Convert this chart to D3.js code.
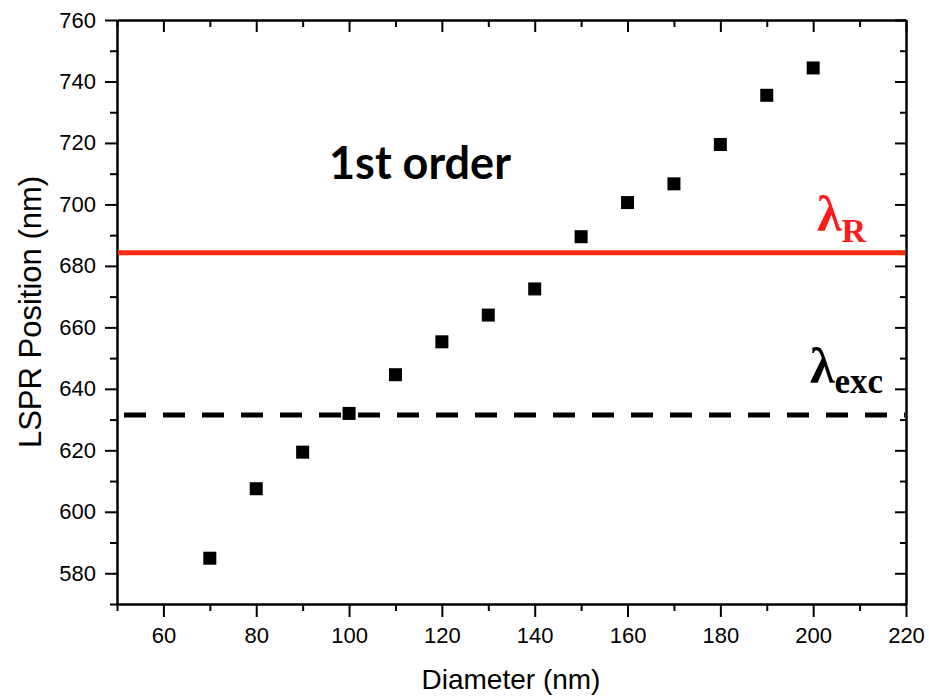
<!DOCTYPE html>
<html>
<head>
<meta charset="utf-8">
<script src="https://cdn.jsdelivr.net/npm/d3@7"></script>
<style>
  html, body { margin: 0; padding: 0; background: #fff; }
  svg { display: block; }
</style>
</head>
<body>
<svg id="chart" width="929" height="696"></svg>
<script>
// ---- data ----
const diameters = [70, 80, 90, 100, 110, 120, 130, 140, 150, 160, 170, 180, 190, 200];
const lsprPositions = [584.9, 607.5, 619.4, 632.0, 644.6, 655.3, 664.0, 672.5, 689.5, 700.6, 706.7, 719.5, 735.5, 744.4];
const lambdaR = 684.3;
const lambdaExc = 631.5;
const xTicks = [60, 80, 100, 120, 140, 160, 180, 200, 220];
const xMinorTicks = [50, 70, 90, 110, 130, 150, 170, 190, 210];
const yTicks = [580, 600, 620, 640, 660, 680, 700, 720, 740, 760];
const yMinorTicks = [570, 590, 610, 630, 650, 670, 690, 710, 730, 750];

const svg = d3.select("#chart");
const L = 117, R = 906, T = 20, B = 604;
const x = d3.scaleLinear().domain([50, 220]).range([L, R]);
const y = d3.scaleLinear().domain([570, 760]).range([B, T]);

function styleAxis(g) {
  g.selectAll("path.domain").attr("stroke", "#000").attr("stroke-width", 2);
  g.selectAll(".tick line").attr("stroke", "#000").attr("stroke-width", 2);
  g.selectAll(".tick text").attr("font-family", "Liberation Sans, Arial, sans-serif")
    .attr("font-size", 22).attr("fill", "#000");
}

// minor ticks first
svg.append("g").attr("transform", `translate(0,${B})`)
  .call(d3.axisBottom(x).tickValues(xMinorTicks).tickSizeInner(7).tickSizeOuter(0).tickFormat(""))
  .call(styleAxis);
svg.append("g").attr("transform", `translate(0,${T})`)
  .call(d3.axisTop(x).tickValues(xMinorTicks).tickSizeInner(-7).tickSizeOuter(0).tickFormat(""))
  .call(styleAxis);
svg.append("g").attr("transform", `translate(${L},0)`)
  .call(d3.axisLeft(y).tickValues(yMinorTicks).tickSizeInner(7).tickSizeOuter(0).tickFormat(""))
  .call(styleAxis);
svg.append("g").attr("transform", `translate(${R},0)`)
  .call(d3.axisRight(y).tickValues(yMinorTicks).tickSizeInner(-6).tickSizeOuter(0).tickFormat(""))
  .call(styleAxis);

// major ticks
svg.append("g").attr("transform", `translate(0,${B})`)
  .call(d3.axisBottom(x).tickValues(xTicks).tickSizeInner(13).tickSizeOuter(0).tickPadding(10).tickFormat(d3.format("d")))
  .call(styleAxis);
svg.append("g").attr("transform", `translate(0,${T})`)
  .call(d3.axisTop(x).tickValues(xTicks).tickSizeInner(-12).tickSizeOuter(0).tickFormat(""))
  .call(styleAxis);
svg.append("g").attr("transform", `translate(${L},0)`)
  .call(d3.axisLeft(y).tickValues(yTicks).tickSizeInner(12).tickSizeOuter(0).tickPadding(9).tickFormat(d3.format("d")))
  .call(styleAxis);
svg.append("g").attr("transform", `translate(${R},0)`)
  .call(d3.axisRight(y).tickValues(yTicks).tickSizeInner(-11).tickSizeOuter(0).tickFormat(""))
  .call(styleAxis);

// reference lines
svg.append("line")
  .attr("x1", x(50) + 1).attr("x2", x(220) - 1)
  .attr("y1", y(lambdaR)).attr("y2", y(lambdaR))
  .attr("stroke", "#ff2a10").attr("stroke-width", 5);

svg.append("line")
  .attr("x1", x(50) + 1).attr("x2", x(220) - 1)
  .attr("y1", y(lambdaExc)).attr("y2", y(lambdaExc))
  .attr("stroke", "#000").attr("stroke-width", 5)
  .attr("stroke-dasharray", "22 17").attr("stroke-dashoffset", 33);

// data squares
const s = 13;
svg.append("g").selectAll("rect")
  .data(diameters.map((d, i) => [d, lsprPositions[i]]))
  .join("rect")
  .attr("x", d => x(d[0]) - s / 2)
  .attr("y", d => y(d[1]) - s / 2)
  .attr("width", s).attr("height", s)
  .attr("fill", "#000");

// annotations
svg.append("text")
  .attr("x", 329).attr("y", 179)
  .attr("font-family", "Lato, sans-serif").attr("font-weight", "bold")
  .attr("font-size", 45).attr("fill", "#000")
  .text("1st order");

const lr = svg.append("text")
  .attr("x", 817).attr("y", 231)
  .attr("font-family", "Liberation Serif, Times New Roman, serif").attr("font-weight", "bold")
  .attr("fill", "#ff1a1a");
lr.append("tspan").attr("font-size", 50).text("λ");
lr.append("tspan").attr("font-size", 34).attr("dy", 11).text("R");

const le = svg.append("text")
  .attr("x", 810).attr("y", 383)
  .attr("font-family", "Liberation Serif, Times New Roman, serif").attr("font-weight", "bold")
  .attr("fill", "#000");
le.append("tspan").attr("font-size", 50).text("λ");
le.append("tspan").attr("font-size", 35).attr("dy", 10).text("exc");

// axis titles
svg.append("text")
  .attr("x", 511).attr("y", 689)
  .attr("text-anchor", "middle")
  .attr("font-family", "Liberation Sans, Arial, sans-serif")
  .attr("font-size", 28).attr("fill", "#000")
  .text("Diameter (nm)");

svg.append("text")
  .attr("transform", `translate(41,${312}) rotate(-90)`)
  .attr("text-anchor", "middle")
  .attr("font-family", "Liberation Sans, Arial, sans-serif")
  .attr("font-size", 31).attr("fill", "#000")
  .text("LSPR Position (nm)");
</script>
</body>
</html>
